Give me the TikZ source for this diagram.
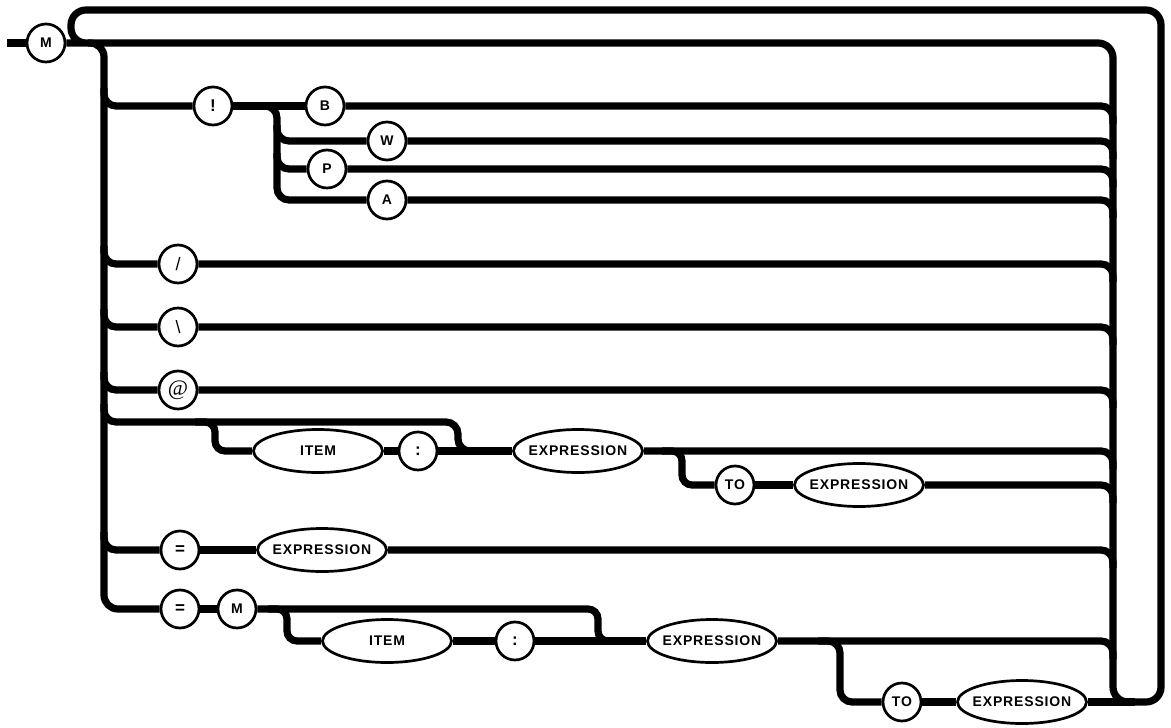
\documentclass[tikz,border=0pt]{standalone}
\usepackage{fontspec}
\newfontfamily\lblfont{Liberation Sans}[LetterSpace=6]
\newfontfamily\symfont{Liberation Serif}
\usetikzlibrary{shapes.geometric}
\pgfdeclarelayer{bg}
\pgfsetlayers{bg,main}
\newcommand\ztext[1]{\makebox[0pt]{#1}}
\begin{document}
\begin{tikzpicture}[x=1pt,y=-1pt,
  rail/.style={line width=7.2pt},
  term/.style={circle,draw,line width=2.7pt,fill=white,minimum size=38pt,inner sep=0pt,
    font=\lblfont\bfseries\fontsize{14}{16}\selectfont},
  nt/.style={ellipse,draw,line width=2.7pt,fill=white,minimum width=129pt,minimum height=43pt,inner sep=0pt,
    font=\lblfont\bfseries\fontsize{14}{16}\selectfont},
  rc/.style={rounded corners=#1}]
\useasboundingbox (0,0) rectangle (1171,728);
% nodes
\node[term] (M1) at (46,43) {M};
\node[term] (ex) at (213,106) {\fontsize{17}{18}\selectfont !};
\node[term] (B) at (325,106) {B};
\node[term] (W) at (387,141) {W};
\node[term] (P) at (327,169) {P};
\node[term] (A) at (387,200) {A};
\node[term] (sl) at (178,264) {\mdseries\fontsize{18}{18}\selectfont /};
\node[term] (bs) at (178,327) {\mdseries\fontsize{18}{18}\selectfont\textbackslash};
\node[term] (at) at (178,390) {\symfont\mdseries\fontsize{22}{22}\selectfont @};
\node[nt] (it1) at (318,451) {\ztext{ITEM}};
\node[term] (co1) at (418,451) {\fontsize{17}{18}\selectfont :};
\node[nt] (e1) at (578,451) {\ztext{EXPRESSION}};
\node[term] (to1) at (735,485) {TO};
\node[nt] (e1b) at (859,485) {\ztext{EXPRESSION}};
\node[term] (eq1) at (180,550) {\fontsize{17}{18}\selectfont =};
\node[nt] (e2) at (322,550) {\ztext{EXPRESSION}};
\node[term] (eq2) at (180,609) {\fontsize{17}{18}\selectfont =};
\node[term] (M2) at (237,609) {M};
\node[nt] (it2) at (387,641) {\ztext{ITEM}};
\node[term] (co2) at (515,641) {\fontsize{17}{18}\selectfont :};
\node[nt] (e3) at (712,641) {\ztext{EXPRESSION}};
\node[term] (to2) at (902,702) {TO};
\node[nt] (e4) at (1022,702) {\ztext{EXPRESSION}};
\coordinate (start) at (7,43);
\begin{pgfonlayer}{bg}
\draw[rail] (start) -- (M1);
% main line, right bus, outer return loop
\draw[rail,rc=15pt] (M1) -- (1113,43) -- (1113,702) -- (1161,702) -- (1161,10) -- (71,10) -- (71,43) -- (92,43);
% left bus
\draw[rail,rc=14pt] (88,43) -- (104,43) -- (104,609) -- (eq2);
\draw[rail,rc=12pt] (104,88) |- (ex);
\draw[rail,rc=12pt] (104,246) |- (sl);
\draw[rail,rc=12pt] (104,309) |- (bs);
\draw[rail,rc=12pt] (104,372) |- (at);
\draw[rail,rc=12pt] (104,532) |- (eq1);
\draw[rail,rc=12pt] (104,404) |- (458,422) |- (482,451);
\draw[rail,rc=10pt] (195,422) -- (215,422) -- (215,451) -- (it1);
% ! group
\draw[rail] (ex) -- (B);
\draw[rail,rc=12pt] (262,106) -- (277,106) -- (277,200) -- (A);
\draw[rail,rc=12pt] (277,125) |- (W);
\draw[rail,rc=12pt] (277,153) |- (P);
% rows into right bus
\draw[rail,rc=12pt] (B) -| (1113,124);
\draw[rail,rc=12pt] (W) -| (1113,159);
\draw[rail,rc=12pt] (P) -| (1113,187);
\draw[rail,rc=12pt] (A) -| (1113,218);
\draw[rail,rc=12pt] (sl) -| (1113,282);
\draw[rail,rc=12pt] (bs) -| (1113,345);
\draw[rail,rc=12pt] (at) -| (1113,408);
\draw[rail,rc=12pt] (e1) -| (1113,469);
\draw[rail,rc=12pt] (e1b) -| (1113,503);
\draw[rail,rc=12pt] (e2) -| (1113,568);
\draw[rail,rc=12pt] (e3) -| (1113,659);
% row connectors
\draw[rail] (it1) -- (co1);
\draw[rail] (co1) -- (e1);
\draw[rail,rc=10pt] (662,451) -- (682,451) -- (682,485) -- (to1);
\draw[rail] (to1) -- (e1b);
\draw[rail] (eq1) -- (e2);
\draw[rail] (eq2) -- (M2);
\draw[rail,rc=10pt] (M2) -| (598,641) -- (625,641);
\draw[rail,rc=10pt] (268,609) -- (287,609) -- (287,641) -- (it2);
\draw[rail] (it2) -- (co2);
\draw[rail] (co2) -- (e3);
\draw[rail,rc=12pt] (818,641) -- (840,641) -- (840,702) -- (to2);
\draw[rail] (to2) -- (e4);
\draw[rail] (e4) -- (1135,702);
\end{pgfonlayer}
\end{tikzpicture}
\end{document}
